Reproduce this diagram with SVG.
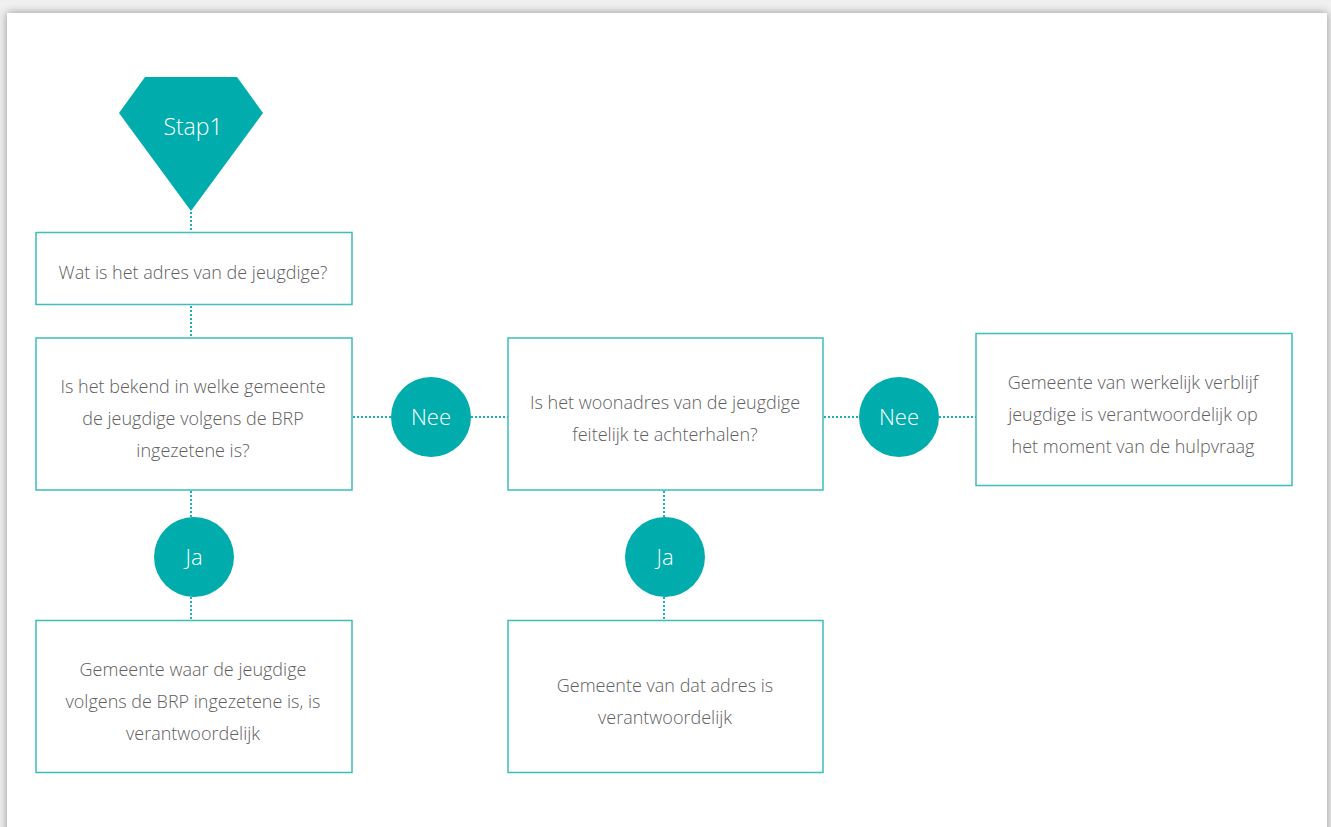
<svg xmlns="http://www.w3.org/2000/svg" width="1331" height="827" viewBox="0 0 1331 827">
<defs>
<filter id="sh" x="-5%" y="-5%" width="110%" height="110%">
<feGaussianBlur in="SourceAlpha" stdDeviation="5"/>
<feOffset dx="0" dy="0"/>
<feComponentTransfer><feFuncA type="linear" slope="0.4"/></feComponentTransfer>
<feMerge><feMergeNode/><feMergeNode in="SourceGraphic"/></feMerge>
</filter>
</defs>
<style>
.box{fill:#fff;stroke:#3dbdbc;stroke-width:1.5}
.t{font-family:"Open Sans","Liberation Sans",sans-serif;font-weight:300;font-size:18px;fill:#606060;text-anchor:middle}
.w{font-family:"Open Sans","Liberation Sans",sans-serif;font-weight:300;fill:#fff;text-anchor:middle}
.fill{fill:#00adac}
.c{stroke:#1fb0b0;stroke-width:2;stroke-dasharray:2 2;fill:none}
</style>
<rect x="0" y="0" width="1331" height="827" fill="#f0f0f0"/>
<rect x="7" y="13" width="1320" height="830" fill="#fff" filter="url(#sh)"/>
<g id="connectors">
<line class="c" x1="191" y1="212" x2="191" y2="232"/>
<line class="c" x1="191" y1="306" x2="191" y2="338"/>
<line class="c" x1="191" y1="491" x2="191" y2="517"/>
<line class="c" x1="191" y1="597" x2="191" y2="620"/>
<line class="c" x1="353" y1="417" x2="391" y2="417"/>
<line class="c" x1="471" y1="417" x2="508" y2="417"/>
<line class="c" x1="664" y1="491" x2="664" y2="517"/>
<line class="c" x1="664" y1="597" x2="664" y2="620"/>
<line class="c" x1="824" y1="417" x2="859" y2="417"/>
<line class="c" x1="939" y1="417" x2="976" y2="417"/>
</g>
<g id="stap1">
<polygon class="fill" points="145,77 237,77 263,113 191,211 119,113"/>
<text class="w" x="193" y="135" font-size="23">Stap1</text>
</g>
<g id="q1">
<rect class="box" x="36" y="232.5" width="316" height="72"/>
<text class="t" x="193" y="279">Wat is het adres van de jeugdige?</text>
</g>
<g id="q2">
<rect class="box" x="36" y="338" width="316" height="152"/>
<text class="t" x="193" y="393">Is het bekend in welke gemeente</text>
<text class="t" x="193" y="425">de jeugdige volgens de BRP</text>
<text class="t" x="193" y="457">ingezetene is?</text>
</g>
<g id="nee1">
<circle class="fill" cx="431" cy="417" r="40"/>
<text class="w" x="431" y="425" font-size="22">Nee</text>
</g>
<g id="q3">
<rect class="box" x="508" y="338" width="315" height="152"/>
<text class="t" x="665" y="409">Is het woonadres van de jeugdige</text>
<text class="t" x="665" y="441">feitelijk te achterhalen?</text>
</g>
<g id="nee2">
<circle class="fill" cx="899" cy="417" r="40"/>
<text class="w" x="899" y="425" font-size="22">Nee</text>
</g>
<g id="r3">
<rect class="box" x="976" y="333.5" width="316" height="152"/>
<text class="t" x="1133" y="389">Gemeente van werkelijk verblijf</text>
<text class="t" x="1133" y="421">jeugdige is verantwoordelijk op</text>
<text class="t" x="1133" y="453">het moment van de hulpvraag</text>
</g>
<g id="ja1">
<circle class="fill" cx="194" cy="557" r="40"/>
<text class="w" x="194" y="565" font-size="22">Ja</text>
</g>
<g id="ja2">
<circle class="fill" cx="665" cy="557" r="40"/>
<text class="w" x="665" y="565" font-size="22">Ja</text>
</g>
<g id="r1">
<rect class="box" x="36" y="620.5" width="316" height="152"/>
<text class="t" x="193" y="676">Gemeente waar de jeugdige</text>
<text class="t" x="193" y="708">volgens de BRP ingezetene is, is</text>
<text class="t" x="193" y="740">verantwoordelijk</text>
</g>
<g id="r2">
<rect class="box" x="508" y="620.5" width="315" height="152"/>
<text class="t" x="665" y="692">Gemeente van dat adres is</text>
<text class="t" x="665" y="724">verantwoordelijk</text>
</g>
</svg>
